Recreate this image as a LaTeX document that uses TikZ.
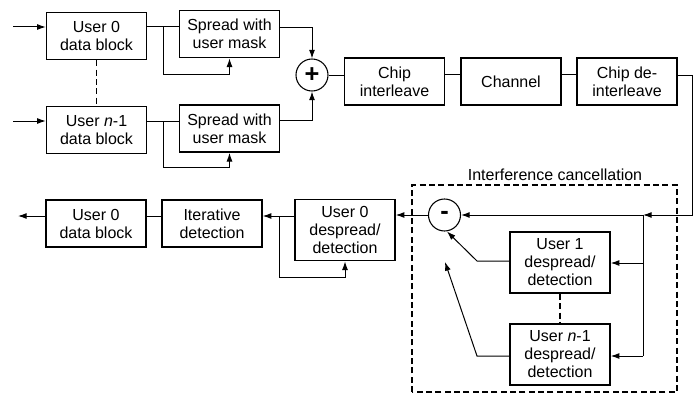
\documentclass[tikz,border=0pt]{standalone}
\usepackage{fontspec}
\setmainfont{Liberation Sans}
\usetikzlibrary{arrows.meta}
\begin{document}
\begin{tikzpicture}[x=0.75pt,y=-0.75pt,
  blk/.style={draw, line width=1.1pt, minimum width=75pt, minimum height=35.5pt, inner sep=1pt, align=center, font=\fontsize{12}{13.5}\selectfont},
  tall/.style={blk, minimum height=46pt},
  sumnode/.style={draw, circle, line width=0.8pt, minimum size=24pt, inner sep=0pt, font=\fontsize{19}{19}\selectfont\bfseries},
  conn/.style={line width=0.75pt},
  arr/.style={conn, -{Latex[length=6.5pt,width=4.5pt]}},
  dsh/.style={line width=1.1pt, dash pattern=on 4.5pt off 2.5pt}
]
\useasboundingbox (0,0) rectangle (698,403);

% top section
\node[blk] (u0) at (96.5,36) {User 0\\data block};
\node[blk] (s0) at (229.5,34) {Spread with\\user mask};
\node[blk] (un) at (96.5,130) {User \textit{n}-1\\data block};
\node[blk] (sn) at (229.5,128.5) {Spread with\\user mask};
\node[sumnode] (plus) at (312,75) {+};
\node[blk] (ci) at (394.5,81.5) {Chip\\interleave};
\node[blk] (ch) at (511,81.5) {Channel};
\node[blk] (cd) at (627,81.5) {Chip de-\\interleave};

% bottom section
\node[sumnode] (minus) at (444.5,215) {-};
\node[tall] (d0) at (345,230) {User 0\\despread/\\detection};
\node[blk] (it) at (212,223.5) {Iterative\\detection};
\node[blk] (ub) at (96,223.5) {User 0\\data block};
\node[tall] (d1) at (560,262.5) {User 1\\despread/\\detection};
\node[tall] (dn) at (560,354.5) {User \textit{n}-1\\despread/\\detection};

\node[font=\fontsize{12}{13.5}\selectfont] (lbl) at (555,175) {Interference cancellation};
\draw[dsh] (412,392) -- (412,185) -- (677,185) -- (677,392) -- cycle;

% coordinates
\coordinate (in0) at (13,27);
\coordinate (inn) at (13,121);
\coordinate (b0) at (163,27);
\coordinate (bn) at (163,121);
\coordinate (cr) at (692,75);
\coordinate (jn) at (643,215);
\coordinate (j1) at (643,263);
\coordinate (jn1) at (643,356);
\coordinate (k1) at (477,261);
\coordinate (kn) at (477,356);
\coordinate (t1) at (447,231.5);
\coordinate (tn) at (445,262);
\coordinate (b2) at (279,216);
\coordinate (out) at (18,216);

% inputs and spreading
\draw[arr] (in0) -- (in0 -| u0.west);
\draw[arr] (inn) -- (inn -| un.west);
\draw[conn] (b0 -| u0.east) -- (b0 -| s0.west);
\draw[conn] (bn -| un.east) -- (bn -| sn.west);
\draw[arr] (b0) |- (229.5,74) -- (s0.south);
\draw[arr] (bn) |- (229.5,167) -- (sn.south);
\draw[arr] (s0.east |- 0,28) -| (plus.north);
\draw[arr] (sn.east |- 0,120) -| (plus.south);
\draw[dsh] (u0.south) -- (un.north);

% chain
\draw[conn] (plus.east) -- (plus.east -| ci.west);
\draw[conn] (ci.east |- 0,74) -- (ch.west |- 0,74);
\draw[conn] (ch.east |- 0,74) -- (cd.west |- 0,74);
\draw[arr] (cd.east |- cr) -- (cr) |- (jn);
\draw[arr] (jn) -- (minus.east);
\draw[conn] (jn) -- (jn1);
\draw[arr] (j1) -- (j1 -| d1.east);
\draw[arr] (jn1) -- (jn1 -| dn.east);
\draw[dsh] (d1.south) -- (dn.north);
\draw[arr] (k1 -| d1.west) -- (k1) -- (t1);
\draw[arr] (kn -| dn.west) -- (kn) -- (tn);

% detection output
\draw[arr] (minus.west) -- (minus.west -| d0.east);
\draw[arr] (b2 -| d0.west) -- (b2 -| it.east);
\draw[arr] (b2) |- (345,277) -- (d0.south);
\draw[conn] (b2 -| it.west) -- (b2 -| ub.east);
\draw[arr] (b2 -| ub.west) -- (out);
\end{tikzpicture}
\end{document}
